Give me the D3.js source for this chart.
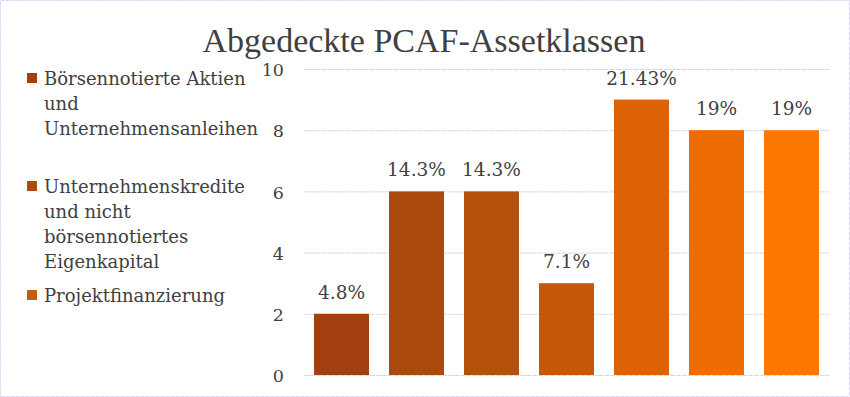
<!DOCTYPE html>
<html>
<head>
<meta charset="utf-8">
<script src="https://cdn.jsdelivr.net/npm/d3@7"></script>
<style>
  body { margin: 0; background: #fff; }
  text { font-family: "DejaVu Serif", "Liberation Serif", serif; fill: #404040; }
</style>
</head>
<body>
<div id="chart"></div>
<script>
var title = "Abgedeckte PCAF-Assetklassen";
var legendLabels = [
    ["Börsennotierte Aktien", "und", "Unternehmensanleihen"],
    ["Unternehmenskredite", "und nicht", "börsennotiertes", "Eigenkapital"],
    ["Projektfinanzierung"]
];
var barKeys = ["1", "2", "3", "4", "5", "6", "7"];
var barValues = [2, 6, 6, 3, 9, 8, 8];
var barLabels = ["4.8%", "14.3%", "14.3%", "7.1%", "21.43%", "19%", "19%"];
var barColors = ["#a33f0f", "#ac4a0d", "#b4500b", "#c55907", "#dc6203", "#ee6c01", "#fd7800"];
var legendColors = ["#a33f0f", "#ac4a0d", "#c25e12"];
var yTicks = [0, 2, 4, 6, 8, 10];

var W = 850, H = 397;
var svg = d3.select("#chart").append("svg")
    .attr("width", W)
    .attr("height", H);

// outer border
svg.append("rect")
    .attr("x", 0.5).attr("y", 0.5)
    .attr("width", W - 1).attr("height", H - 1)
    .attr("fill", "#fff")
    .attr("stroke", "#d9d9f5")
    .attr("stroke-dasharray", "4,1");

svg.append("text")
    .attr("x", 424)
    .attr("y", 52)
    .attr("text-anchor", "middle")
    .style("font-family", "Liberation Serif")
    .style("font-size", "34px")
    .text(title);

//
// Scales
//
var x = d3.scaleBand()
    .domain(barKeys)
    .range([304, 829])
    .paddingInner(0.2667)
    .paddingOuter(0.1333);

var y = d3.scaleLinear()
    .domain([0, 10])
    .range([375, 69]);

// gridlines
svg.append("g")
    .selectAll("line")
    .data(yTicks)
    .enter().append("line")
    .attr("x1", 304)
    .attr("x2", 829)
    .attr("y1", function(d) { return y(d) + 0.5; })
    .attr("y2", function(d) { return y(d) + 0.5; })
    .attr("stroke", "#d6d6f3")
    .attr("stroke-dasharray", "5,1");

// y axis
var yAxis = svg.append("g")
    .attr("transform", "translate(290,0)")
    .call(d3.axisLeft(y).tickValues(yTicks).tickSize(0).tickPadding(6));
yAxis.select(".domain").remove();
yAxis.selectAll("text")
    .attr("dy", "0.38em")
    .attr("fill", "#404040")
    .style("font-size", "17.5px")
    .style("font-family", "DejaVu Serif");

// bars
svg.append("g")
    .selectAll("rect")
    .data(barValues)
    .enter().append("rect")
    .attr("x", function(d, i) { return x(barKeys[i]); })
    .attr("y", function(d) { return y(d); })
    .attr("width", x.bandwidth())
    .attr("height", function(d) { return y(0) - y(d); })
    .attr("fill", function(d, i) { return barColors[i]; });

// value labels
svg.append("g")
    .selectAll("text")
    .data(barValues)
    .enter().append("text")
    .attr("x", function(d, i) { return x(barKeys[i]) + x.bandwidth() / 2; })
    .attr("y", function(d) { return y(d) - 15; })
    .attr("text-anchor", "middle")
    .style("font-size", "18.5px")
    .text(function(d, i) { return barLabels[i]; });

// Legend
var ly = [78, 186, 295];
legendLabels.forEach(function(lines, i) {
    svg.append("rect")
        .attr("x", 27)
        .attr("y", ly[i] - 5)
        .attr("width", 10)
        .attr("height", 10)
        .attr("fill", legendColors[i]);
    var t = svg.append("text")
        .attr("x", 44)
        .attr("y", ly[i] + 7)
        .style("font-size", "18px");
    lines.forEach(function(line, j) {
        t.append("tspan")
            .attr("x", 44)
            .attr("dy", j === 0 ? 0 : 25)
            .text(line);
    });
});
</script>
</body>
</html>
